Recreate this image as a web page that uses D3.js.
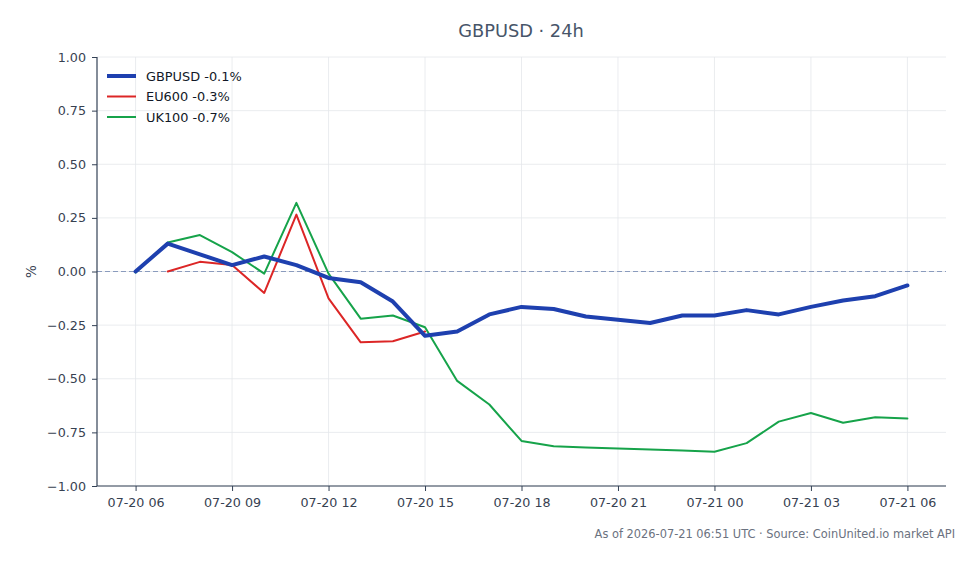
<!DOCTYPE html>
<html><head><meta charset="utf-8">
<script src="https://cdn.jsdelivr.net/npm/d3@7"></script>
<style>
body{margin:0;background:#fff;}
svg{display:block;font-family:"DejaVu Sans",sans-serif;}
</style></head>
<body><svg id="c" width="978" height="564"></svg>
<script>
const startTime = "2026-07-20T06:00:00Z";
const endTime = "2026-07-21T06:00:00Z";
const gbpusd = [0.00,0.13,0.08,0.03,0.07,0.03,-0.03,-0.05,-0.14,-0.30,-0.28,-0.20,-0.165,-0.175,-0.21,-0.225,-0.24,-0.205,-0.205,-0.18,-0.20,-0.165,-0.135,-0.115,-0.065];
const eu600 = [null,0.00,0.045,0.03,-0.10,0.265,-0.125,-0.33,-0.325,-0.28,null,null,null,null,null,null,null,null,null,null,null,null,null,null,null];
const uk100 = [-0.005,0.135,0.17,0.09,-0.01,0.32,-0.01,-0.22,-0.205,-0.26,-0.51,-0.62,-0.79,-0.815,-0.82,-0.825,-0.83,-0.835,-0.84,-0.80,-0.70,-0.66,-0.705,-0.68,-0.685];
const seriesNames = ["GBPUSD -0.1%","EU600 -0.3%","UK100 -0.7%"];
const seriesColors = ["#1e40af","#dc2626","#16a34a"];
const seriesWidths = [4,2,2];
const yTicks = [1.00,0.75,0.50,0.25,0.00,-0.25,-0.50,-0.75,-1.00];
const titleText = "GBPUSD · 24h";
const footerText = "As of 2026-07-21 06:51 UTC · Source: CoinUnited.io market API";

const t0 = new Date(startTime), t1 = new Date(endTime);
const times = d3.utcHour.range(t0, new Date(+t1 + 1));
const pad = (t1 - t0) * 0.05;
const svg = d3.select("#c");
const L = 97, R = 946, T = 57, B = 486;
const x = d3.scaleUtc().domain([new Date(+t0 - pad), new Date(+t1 + pad)]).range([L, R]);
const y = d3.scaleLinear().domain([-1, 1]).range([B, T]);
const xTicks = d3.utcHour.every(3).range(t0, new Date(+t1 + 1));

// grid
const g = svg.append("g");
g.selectAll(".gx").data(xTicks).join("line")
  .attr("x1", d => x(d)).attr("x2", d => x(d)).attr("y1", T).attr("y2", B)
  .attr("stroke", "#e5e7eb").attr("stroke-width", 0.8);
g.selectAll(".gy").data(yTicks).join("line")
  .attr("x1", L).attr("x2", R).attr("y1", d => y(d)).attr("y2", d => y(d))
  .attr("stroke", "#e5e7eb").attr("stroke-width", 0.8);
// zero line
svg.append("line").attr("x1", L).attr("x2", R).attr("y1", y(0)).attr("y2", y(0))
  .attr("stroke", "#8a9bbd").attr("stroke-width", 1).attr("stroke-dasharray", "5,3");

// axes
const fmt = d3.utcFormat("%m-%d %H");
const xa = svg.append("g").attr("transform", `translate(0,${B})`)
  .call(d3.axisBottom(x).tickValues(xTicks).tickFormat(fmt).tickSize(5).tickSizeOuter(0).tickPadding(7));
const ya = svg.append("g").attr("transform", `translate(${L},0)`)
  .call(d3.axisLeft(y).tickValues(yTicks).tickFormat(d => d3.format(".2f")(d).replace("-", "−")).tickSize(5).tickSizeOuter(0).tickPadding(6));
[xa, ya].forEach(a => {
  a.select(".domain").attr("stroke", "#334155").attr("stroke-width", 1.2);
  a.selectAll(".tick line").attr("stroke", "#334155").attr("stroke-width", 1);
  a.selectAll("text").attr("fill", "#374151").attr("font-size", 12.7).attr("font-family", "DejaVu Sans");
});
xa.select(".domain").attr("d", `M${L},0H${R}`);
ya.select(".domain").attr("d", `M0,${T}V${B}`);

// lines
const all = [gbpusd, eu600, uk100];
const line = d3.line().defined(d => d.v !== null).x(d => x(d.t)).y(d => y(d.v));
[2,1,0].forEach(i => {
  const pts = times.map((t, j) => ({t, v: all[i][j]}));
  svg.append("path").datum(pts).attr("d", line).attr("fill", "none")
    .attr("stroke", seriesColors[i]).attr("stroke-width", seriesWidths[i])
    .attr("stroke-linejoin", "round").attr("stroke-linecap", "round");
});

// legend
seriesNames.forEach((n, i) => {
  const yy = 76 + i * 20.5;
  svg.append("line").attr("x1", 107).attr("x2", 136).attr("y1", yy).attr("y2", yy)
    .attr("stroke", seriesColors[i]).attr("stroke-width", seriesWidths[i]);
  svg.append("text").attr("x", 146).attr("y", yy).attr("dy", "0.35em")
    .attr("font-size", 12.9).attr("fill", "#111827").text(n);
});

// title & labels
svg.append("text").attr("x", 521).attr("y", 31).attr("dy", "0.35em").attr("text-anchor", "middle")
  .attr("font-size", 17.8).attr("fill", "#475569").text(titleText);
svg.append("text").attr("transform", `translate(31,${y(0)}) rotate(-90)`).attr("text-anchor", "middle")
  .attr("dy", "0.35em").attr("font-size", 13.5).attr("fill", "#374151").text("%");
svg.append("text").attr("x", 955).attr("y", 534).attr("dy", "0.35em").attr("text-anchor", "end")
  .attr("font-size", 11.4).attr("fill", "#6b7280").text(footerText);
</script></body></html>
